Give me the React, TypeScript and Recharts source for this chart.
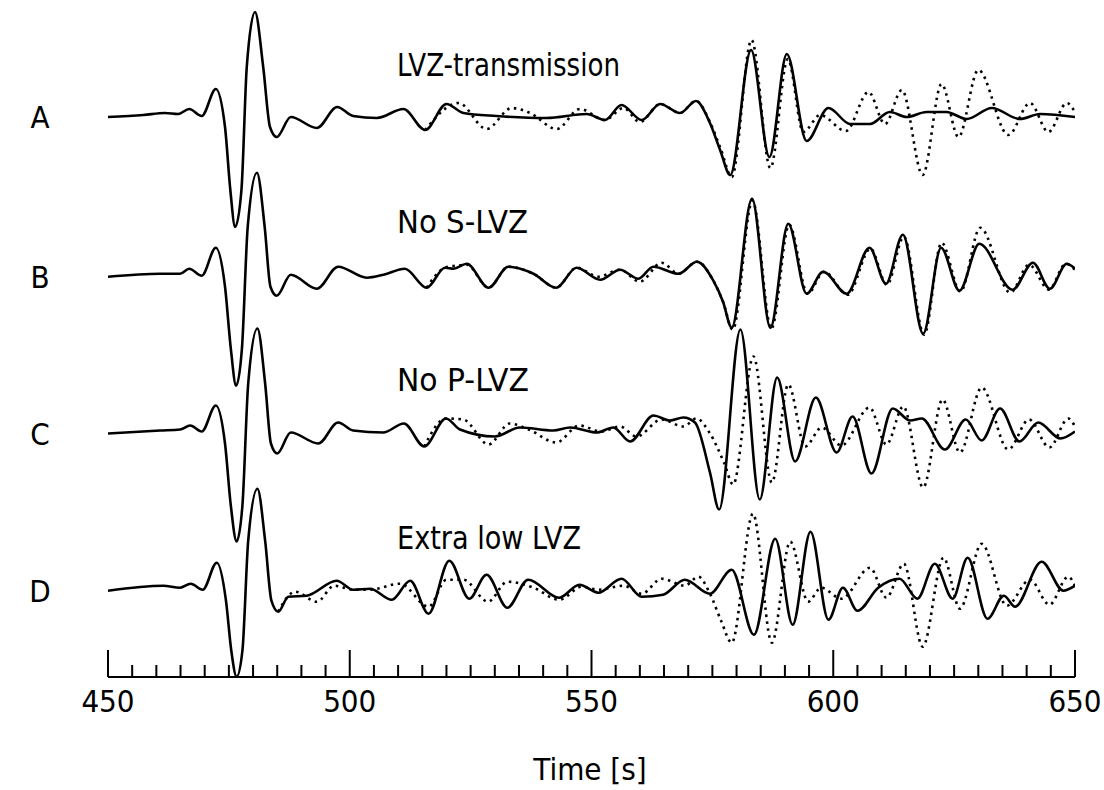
import { LineChart, Line, XAxis, YAxis } from "recharts";

// trace amplitudes, [time s, amplitude] (amplitude in plot units, up positive)
const traceNames = ["A", "B", "C", "D"];
const traceTitles = ["LVZ-transmission", "No S-LVZ", "No P-LVZ", "Extra low LVZ"];
const traceBaselines = [560, 400.3, 243.5, 86.3];

const aSolid = [
  [450, 0], [457.3, 2], [461.8, 4], [464.5, 3], [466.8, 8], [469.4, 1], [472.3, 28], [474.2, -10],
  [475.3, -73], [476.3, -110], [477.6, -73], [478.7, 50], [480.4, 105], [482.1, 50], [483.5, -10],
  [484.9, -20], [487.8, 0], [493.2, -11], [497.4, 10], [500.7, 1], [505.6, -1], [511.1, 8],
  [515.6, -13], [520, 13], [523.5, 4], [530.4, 1], [540.7, -1], [549, 3], [552.8, -3], [556.2, 12],
  [560.4, -3], [564.2, 13], [568.3, 4], [571.6, 16], [574.5, -6], [576.6, -33], [578.7, -58],
  [583, 67], [586.8, -40], [590.4, 63], [594.5, -24], [599, 9], [603.5, -7], [607.6, -7],
  [611.7, 5], [615.2, 0], [619.3, 5], [623.4, 5], [627.6, -2], [632.8, 9], [638.6, -2],
  [642.8, 3], [650, 0],
];
const aDotted = [
  [515.6, -13], [522.5, 14], [528.3, -12], [533.5, 9], [537.3, 4], [542.8, -12], [547.6, 8],
  [552.8, -3], [556.6, 9], [560, -5], [564.2, 13], [568.3, 4], [571.6, 16], [574.5, -5],
  [576.8, -33], [579, -60], [583.1, 77], [587, -51], [590.6, 58], [593.8, -15], [597.3, 2],
  [602.6, -14], [607.3, 25], [610.7, -7], [614.2, 27], [618.5, -58], [622.4, 33], [625.9, -20],
  [630, 47], [636.2, -18], [640.7, 14], [644.5, -15], [648.3, 14], [650, 5],
];

const bSolid = [
  [450, 0], [460.8, 3], [464.9, 3], [466.8, 8], [469.4, 1], [472.3, 29], [474.2, -10],
  [475.4, -72], [476.5, -109], [477.7, -72], [478.9, 50], [480.8, 104], [482.4, 50], [483.6, -10],
  [484.9, -19], [487.8, 2], [493.2, -12], [497.6, 10], [503.5, -1], [507, 2], [511.4, 8],
  [515.9, -11], [519.7, 9], [521.5, 8], [524.2, 13], [528.7, -11], [532.8, 10], [538, 3],
  [542.7, -11], [546.9, 9], [551.8, -3], [555.9, 7], [559.7, -2], [562.8, 10], [568, 3],
  [571.8, 15], [575.2, -4], [577.2, -25], [579, -51], [583.2, 78], [587, -51], [590.7, 53],
  [594.5, -17], [597.9, 5], [602.8, -17], [607.5, 29], [610.9, -7], [614.4, 42], [618.6, -57],
  [622.3, 29], [626.1, -14], [630.2, 33], [637.1, -13], [641.3, 14], [644.8, -12], [648.3, 13],
  [650, 8],
];
const bDotted = [
  [515.9, -11], [519.7, 9], [522, 11], [524.2, 12], [528.7, -11], [532.8, 10], [538, 3],
  [542.7, -11], [546.9, 9], [551.4, 0], [555.9, 7], [560, -5], [564.5, 14], [568, 3],
  [571.8, 15], [575.2, -4], [577.2, -25], [579.2, -53], [583.3, 76], [587.2, -52], [590.9, 52],
  [594.7, -17], [598.1, 5], [603, -18], [607.7, 28], [611.1, -8], [614.6, 40], [618.8, -58],
  [622.4, 34], [626.3, -15], [630.4, 49], [636.6, -16], [640.5, 12], [644.6, -13], [648.1, 13],
  [650, 7],
];

const cSolid = [
  [450, 0], [460.8, 3], [464.9, 4], [467, 8], [469.4, 2], [472.3, 28], [474.2, -10],
  [475.4, -72], [476.6, -108], [477.8, -72], [479, 50], [480.9, 105], [482.5, 50], [483.7, -10],
  [485, -20], [487.8, 1], [493.5, -10], [497.6, 11], [500.7, 3], [506.9, 1], [511.2, 10],
  [515.4, -13], [519.9, 15], [522.8, 4], [530, -3], [535.2, 6], [542.1, 3], [545.6, 6],
  [551.1, 1], [554.5, 6], [558, -8], [562.8, 18], [566.2, 13], [569, 16], [571.4, 11],
  [574.5, -39], [576.4, -76], [580.8, 104], [584.8, -66], [588.4, 56], [592.1, -28], [596.4, 36],
  [600.7, -19], [604, 17], [607.9, -40], [612.3, 25], [615.9, 13], [618.3, 15], [623.1, -16],
  [627.4, 14], [630.7, -7], [634.5, 25], [638.5, -8], [642.4, 11], [647, -5], [650, 2],
];
const cDotted = [
  [515.4, -13], [519.9, 15], [523.5, 14], [528.7, -11], [533.1, 10], [537, 4], [542.7, -9],
  [547.5, 8], [552, 2], [555.9, 7], [559.3, -3], [564.5, 14], [569, 7], [571.7, 15], [574.5, 0],
  [577.4, -29], [579.3, -51], [583.5, 77], [587.3, -49], [590.7, 49], [594.2, -13], [597.6, 6],
  [601.7, -12], [607.5, 26], [611, -11], [614.5, 27], [618.6, -54], [622.6, 34], [626.2, -19],
  [630.7, 46], [636.2, -16], [640.5, 14], [644.7, -14], [648.6, 15], [650, 7],
];

const dSolid = [
  [450, 0], [461.4, 5], [464.9, 3], [467.1, 7], [469.6, 1], [472.5, 28], [474.4, -10],
  [475.5, -60], [476.6, -86], [477.8, -60], [479, 50], [480.9, 102], [482.5, 50], [483.8, -10],
  [485.2, -21], [487.3, -6], [491.1, -5], [497.3, 10], [500.7, 1], [504.2, 2], [508.7, -9],
  [512.5, 10], [516.3, -23], [520.6, 30], [524.7, -8], [528.3, 16], [532.6, -17], [536.9, 11],
  [543.3, -7], [547.5, 6], [551.4, -2], [556.2, 12], [560.4, -6], [564.8, -4], [569.3, 11],
  [574.5, -3], [579, 21], [583.6, -44], [588, 52], [591.6, -34], [595.3, 59], [599, -29],
  [602, 3], [605, -20], [609.3, 3], [613.7, 12], [617.4, -8], [621, 27], [624.7, -8],
  [627.8, 33], [631.9, -28], [635.3, -5], [637.6, -16], [643.1, 29], [647.6, 0], [650, 5],
];
const dDotted = [
  [485.2, -21], [488.7, -1], [493.2, -11], [496.8, 5], [500.7, 1], [504.2, 1], [510.4, 7],
  [516.3, -16], [520, 11], [523.5, 11], [528.6, -11], [532.6, 9], [538, 3], [543.3, -9],
  [548, 4], [551.4, 1], [556.6, 5], [560.4, -3], [564.5, 12], [569.3, 5], [572.1, 14],
  [574.5, -3], [576.8, -30], [579, -52], [583.4, 77], [587.3, -52], [591.1, 49], [594.8, -11],
  [597.5, 3], [601.7, -8], [607.6, 23], [611, -7], [614.6, 27], [618.5, -56], [622.8, 33],
  [626.2, -18], [630.7, 47], [635.9, -15], [640.7, 11], [644.7, -14], [648.6, 14], [650, 5],
];

const timeTicks = [
  450, 455, 460, 465, 470, 475, 480, 485, 490, 495, 500, 505, 510, 515, 520, 525, 530, 535, 540,
  545, 550, 555, 560, 565, 570, 575, 580, 585, 590, 595, 600, 605, 610, 615, 620, 625, 630, 635,
  640, 645, 650,
];
const majorTicks = [450, 500, 550, 600, 650];

const FONT = "'DejaVu Sans Condensed', 'Liberation Sans Narrow', sans-serif";

const solids = [aSolid, bSolid, cSolid, dSolid];
const dotteds = [aDotted, bDotted, cDotted, dDotted];

const toRows = (pts: number[][], base: number) => pts.map(([t, a]) => ({ t, v: base + a }));

function TimeTick({ x, y, payload }: any) {
  const major = majorTicks.includes(payload.value);
  return (
    <g>
      <line x1={x} x2={x} y1={y} y2={y - (major ? 27 : 12)} stroke="#000" strokeWidth={2} />
      {major && (
        <text x={x} y={y + 35} textAnchor="middle" fontFamily={FONT} fontSize={31} fill="#000">
          {payload.value}
        </text>
      )}
    </g>
  );
}

export default function App() {
  return (
    <div style={{ position: "absolute", left: 0, top: 0, width: 1104, height: 790, background: "#fff" }}>
      <LineChart width={1104} height={790} margin={{ top: 0, right: 29, left: 108, bottom: 33 }}>
        <XAxis
          type="number"
          dataKey="t"
          domain={[450, 650]}
          ticks={timeTicks}
          interval={0}
          allowDataOverflow
          height={80}
          tickSize={0}
          tickMargin={0}
          tickLine={false}
          axisLine={{ stroke: "#000", strokeWidth: 2 }}
          tick={<TimeTick />}
        />
        <YAxis type="number" domain={[0, 677]} hide allowDataOverflow />
        {dotteds.map((pts, i) => (
          <Line
            key={"d" + i}
            data={toRows(pts, traceBaselines[i])}
            dataKey="v"
            type="monotone"
            stroke="#000"
            strokeWidth={2.6}
            strokeDasharray="2.5 4.5"
            dot={false}
            isAnimationActive={false}
          />
        ))}
        {solids.map((pts, i) => (
          <Line
            key={"s" + i}
            data={toRows(pts, traceBaselines[i])}
            dataKey="v"
            type="monotone"
            stroke="#000"
            strokeWidth={2.6}
            dot={false}
            isAnimationActive={false}
          />
        ))}
      </LineChart>
      <svg width={1104} height={790} style={{ position: "absolute", left: 0, top: 0, pointerEvents: "none" }}>
        {traceNames.map((n, i) => (
          <text key={n} x={40} y={677 - traceBaselines[i] + 11} textAnchor="middle" fontFamily={FONT} fontSize={31} fill="#000">
            {n}
          </text>
        ))}
        {traceTitles.map((s, i) => (
          <text
            key={s}
            x={397}
            y={[76, 233, 391, 549][i]}
            textLength={[223, 131, 132, 184][i]}
            lengthAdjust="spacingAndGlyphs"
            fontFamily={FONT}
            fontSize={32}
            fill="#000"
          >
            {s}
          </text>
        ))}
        <text x={590} y={780} textAnchor="middle" fontFamily={FONT} fontSize={31} fill="#000">
          Time [s]
        </text>
      </svg>
    </div>
  );
}
